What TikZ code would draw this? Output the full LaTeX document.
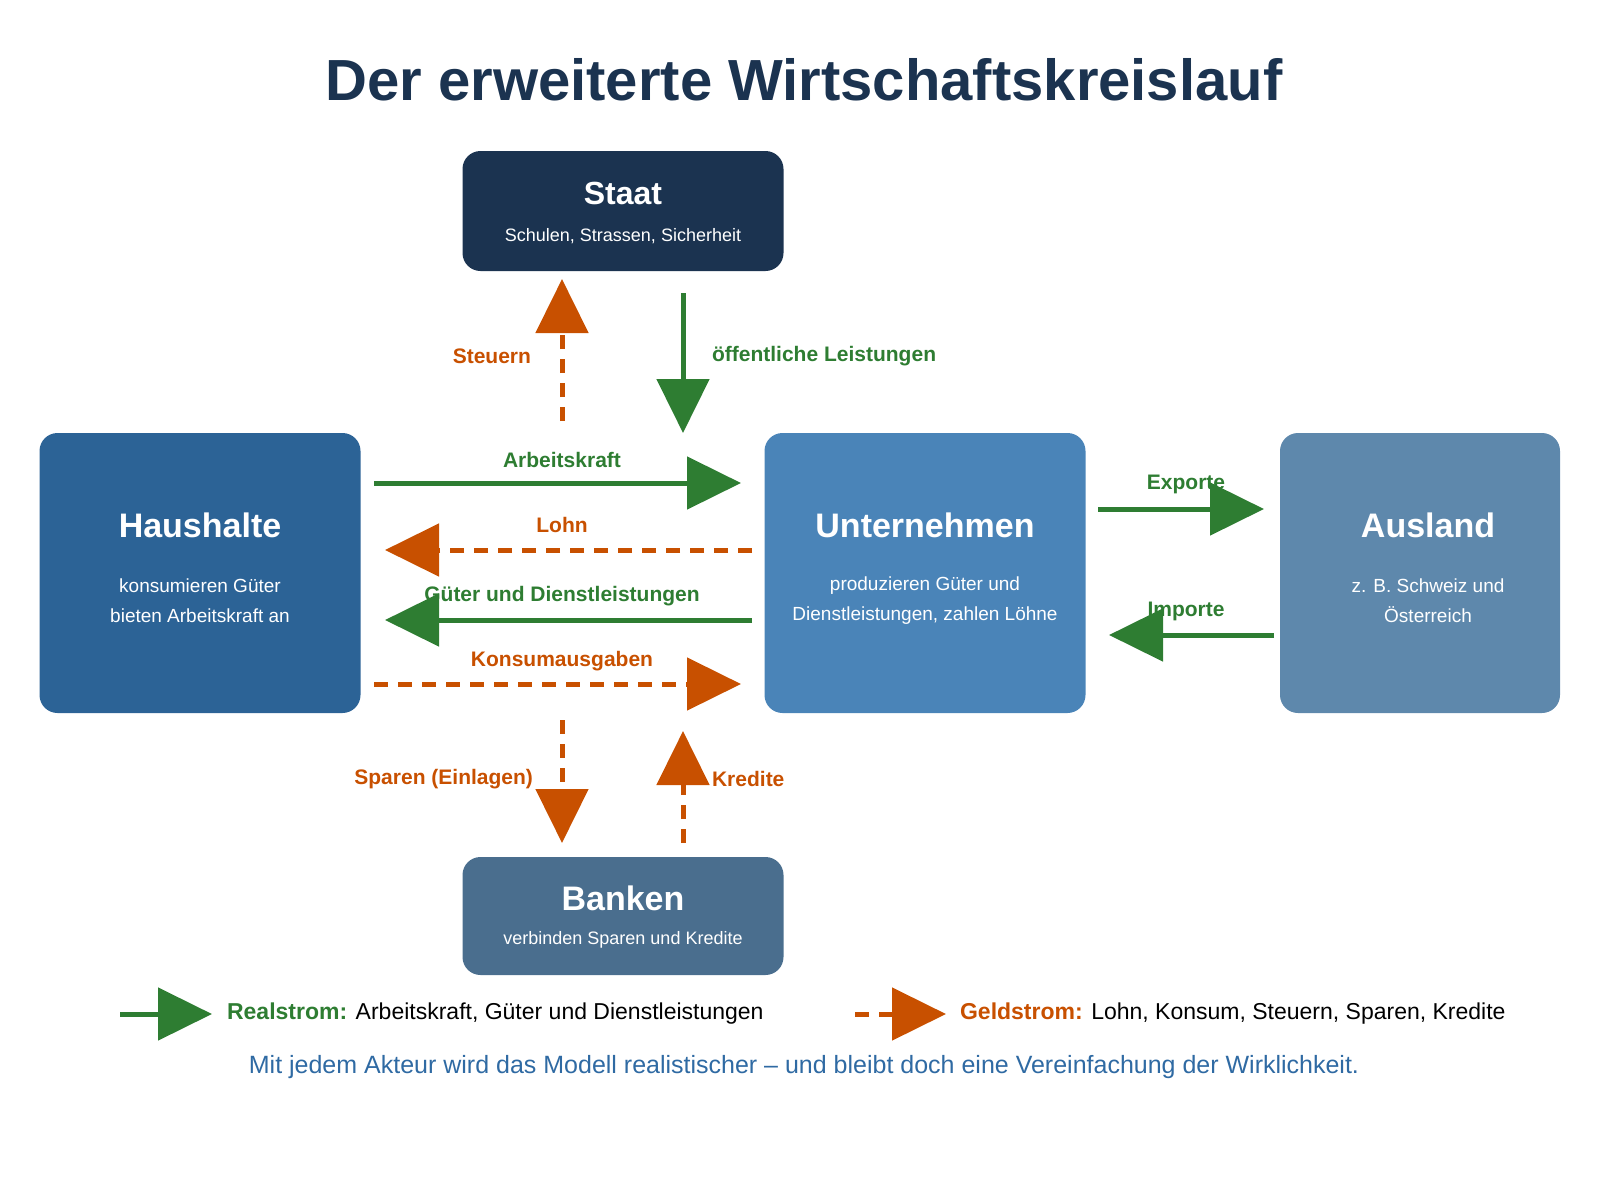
\documentclass[tikz,border=0pt]{standalone}
\usepackage{fontspec}
\setmainfont{Liberation Sans}
\usetikzlibrary{arrows.meta}

\definecolor{navy}{HTML}{1B3350}
\definecolor{hhblue}{HTML}{2C6396}
\definecolor{ubblue}{HTML}{4A84B8}
\definecolor{ausblue}{HTML}{5E88AC}
\definecolor{bkblue}{HTML}{4A6E8E}
\definecolor{realgreen}{HTML}{2E7D32}
\definecolor{geldorange}{HTML}{C85000}
\definecolor{notblue}{HTML}{2F6AA3}

\tikzset{
	actor/.style={draw=none, rounded corners=9pt, inner sep=0pt},
	atitle/.style={text=white, font=\bfseries\fontsize{17}{20}\selectfont},
	asub/.style={text=white, align=center, font=\fontsize{9.5}{15}\selectfont},
	real/.style={draw=realgreen, line width=2.5pt, -{Triangle[length=27pt,width=26pt]}},
	geld/.style={draw=geldorange, line width=2.5pt, dash pattern=on 7pt off 5pt,
		-{Triangle[length=27pt,width=26pt]}},
	rlabel/.style={text=realgreen, font=\bfseries\fontsize{10.5}{12}\selectfont},
	glabel/.style={text=geldorange, font=\bfseries\fontsize{10.5}{12}\selectfont},
}

\begin{document}
\begin{tikzpicture}[x=0.5pt, y=-0.5pt]

% frame %{{{2

	\useasboundingbox (0,0) rectangle (1600,1200);

	\node[text=navy, font=\bfseries\fontsize{29}{34}\selectfont] (title) at (804,80)
		{Der erweiterte Wirtschaftskreislauf};

% actors %{{{2

	\node[actor, fill=navy, minimum width=160.5pt, minimum height=60pt] (staat) at (623,211) {};
	\node[actor, fill=hhblue, minimum width=160.5pt, minimum height=140pt] (haus) at (200,573) {};
	\node[actor, fill=ubblue, minimum width=160.5pt, minimum height=140pt] (unt) at (925,573) {};
	\node[actor, fill=ausblue, minimum width=140pt, minimum height=140pt] (aus) at (1420,573) {};
	\node[actor, fill=bkblue, minimum width=160.5pt, minimum height=59pt] (bank) at (623,916) {};

	% ---- titles and subtitles

	\node[atitle, font=\bfseries\fontsize{16}{19}\selectfont] (staatT) at (623,193) {Staat};
	\node[asub, font=\fontsize{9}{12}\selectfont] (staatS) at (623,236) {Schulen, Strassen, Sicherheit};
	\node[atitle] (hausT) at (200,525) {Haushalte};
	\node[asub] (hausS) at (200,601) {konsumieren Güter\\bieten Arbeitskraft an};
	\node[atitle] (untT) at (925,525) {Unternehmen};
	\node[asub] (untS) at (925,601) {produzieren Güter und\\Dienstleistungen, zahlen Löhne};
	\node[atitle] (ausT) at (1428,525) {Ausland};
	\node[asub] (ausS) at (1428,601) {z. B. Schweiz und\\Österreich};
	\node[atitle] (bankT) at (623,898) {Banken};
	\node[asub, font=\fontsize{9}{12}\selectfont] (bankS) at (623,940) {verbinden Sparen und Kredite};

% flow ends %{{{2

	\coordinate (stS) at (562,421);  \coordinate (stE) at (562,279);
	\coordinate (olS) at (683,293);  \coordinate (olE) at (683,433);
	\coordinate (akS) at (374,483);  \coordinate (akE) at (741,483);
	\coordinate (lnS) at (752,550);  \coordinate (lnE) at (385,550);
	\coordinate (gdS) at (752,620);  \coordinate (gdE) at (385,620);
	\coordinate (kaS) at (374,684);  \coordinate (kaE) at (741,684);
	\coordinate (spS) at (562,720);  \coordinate (spE) at (562,843);
	\coordinate (krS) at (683,843);  \coordinate (krE) at (683,731);
	\coordinate (exS) at (1098,509); \coordinate (exE) at (1264,509);
	\coordinate (imS) at (1274,635); \coordinate (imE) at (1109,635);

% flows %{{{2

	\draw[geld] (stS) -- (stE);
	\draw[real] (olS) -- (olE);
	\draw[real] (akS) -- (akE);
	\draw[geld] (lnS) -- (lnE);
	\draw[real] (gdS) -- (gdE);
	\draw[geld] (kaS) -- (kaE);
	\draw[geld] (spS) -- (spE);
	\draw[geld] (krS) -- (krE);
	\draw[real] (exS) -- (exE);
	\draw[real] (imS) -- (imE);

% flow labels %{{{2

	\node[glabel, anchor=east] (stL) at (538,356) {Steuern};
	\node[rlabel, anchor=west] (olL) at (705,356) {öffentliche Leistungen};
	\node[rlabel] (akL) at (562,460) {Arbeitskraft};
	\node[glabel] (lnL) at (562,525) {Lohn};
	\node[rlabel] (gdL) at (562,596) {Güter und Dienstleistungen};
	\node[glabel] (kaL) at (562,661) {Konsumausgaben};
	\node[glabel, anchor=east] (spL) at (540,779) {Sparen (Einlagen)};
	\node[glabel, anchor=west] (krL) at (705,779) {Kredite};
	\node[rlabel] (exL) at (1186,484) {Exporte};
	\node[rlabel] (imL) at (1186,611) {Importe};

% legend %{{{2

	\coordinate (lgRS) at (120,1014); \coordinate (lgRE) at (212,1014);
	\coordinate (lgGS) at (855,1014); \coordinate (lgGE) at (946,1014);

	\draw[real] (lgRS) -- (lgRE);
	\draw[geld] (lgGS) -- (lgGE);

	\node[anchor=west, font=\fontsize{11.5}{14}\selectfont] (lgR) at (220,1014)
		{\textcolor{realgreen}{\bfseries Realstrom:} Arbeitskraft, Güter und Dienstleistungen};
	\node[anchor=west, font=\fontsize{11.5}{14}\selectfont] (lgG) at (953,1014)
		{\textcolor{geldorange}{\bfseries Geldstrom:} Lohn, Konsum, Steuern, Sparen, Kredite};

	\node[text=notblue, font=\fontsize{12.5}{15}\selectfont] (note) at (804,1067)
		{Mit jedem Akteur wird das Modell realistischer – und bleibt doch eine Vereinfachung der Wirklichkeit.};

% closing %{{{2

\end{tikzpicture}
\end{document}
